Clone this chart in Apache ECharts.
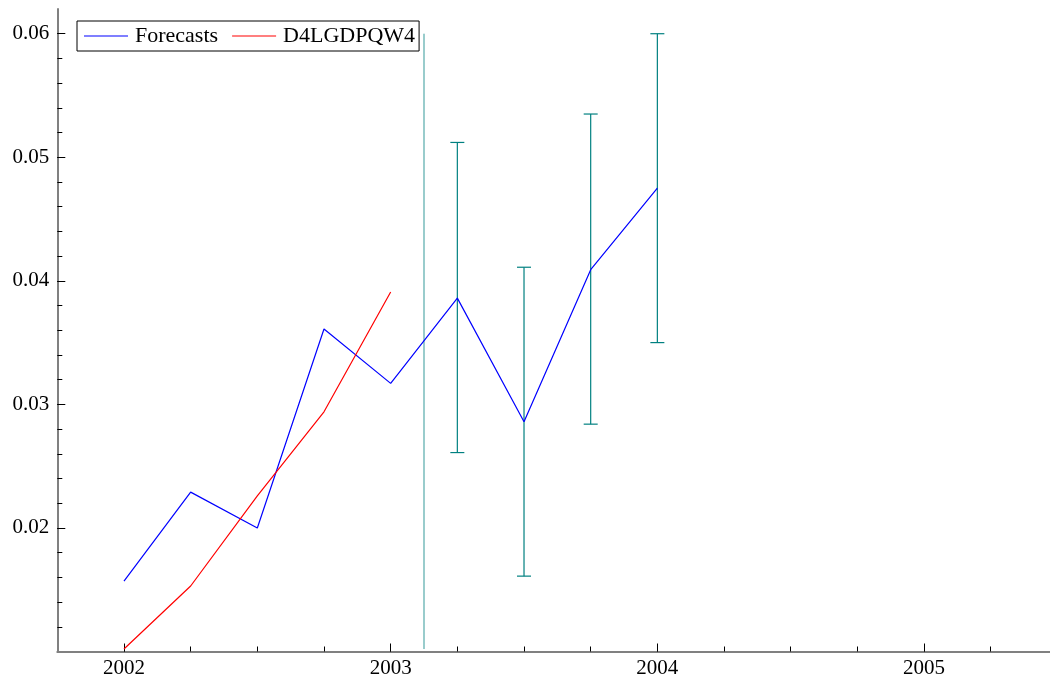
<!DOCTYPE html>
<html>
<head>
<meta charset="utf-8">
<script src="https://cdn.jsdelivr.net/npm/echarts@6/dist/echarts.min.js"></script>
<style>
  html, body { margin: 0; padding: 0; background: #fff; }
  #chart { width: 1050px; height: 684px; }
</style>
</head>
<body>
<div id="chart"></div>
<script>
// Quarterly dates (decimal years)
const quarters = [2002.0, 2002.25, 2002.5, 2002.75, 2003.0, 2003.25, 2003.5, 2003.75, 2004.0];
// Forecast path (fitted then out-of-sample)
const forecasts = [0.0157, 0.0229, 0.0200, 0.0361, 0.0317, 0.0386, 0.0286, 0.0409, 0.0475];
// Actual series
const actualDates = [2002.0, 2002.25, 2002.5, 2002.75, 2003.0];
const actual = [0.0102, 0.0153, 0.0226, 0.0294, 0.0391];
// Forecast intervals
const bandDates = [2003.25, 2003.5, 2003.75, 2004.0];
const bandLow = [0.0261, 0.0161, 0.0284, 0.0350];
const bandHigh = [0.0512, 0.0411, 0.0535, 0.0600];
// Forecast origin marker
const originDate = 2003.125;
const originRange = [0.0102, 0.0600];
// Tick labels
const yearTicks = [2002, 2003, 2004, 2005];
const yTicks = [0.02, 0.03, 0.04, 0.05, 0.06];

const FONT = 'Liberation Serif';
const TEAL = '#008080';

// Minor tick positions: every quarter on x, every 0.002 on y
const xMinorTicks = [];
for (let k = 1; k <= 14; k++) xMinorTicks.push(2001.75 + k * 0.25);
const yMinorTicks = [];
for (let k = 1; k <= 25; k++) yMinorTicks.push(+(0.01 + k * 0.002).toFixed(4));

const chart = echarts.init(document.getElementById('chart'));

const xBase = {
  type: 'value', min: 2001.75, max: 2005.5, position: 'bottom',
  interval: 0.25, splitLine: { show: false }
};
const yBase = {
  type: 'value', min: 0.01, max: 0.062, position: 'left',
  interval: 0.002, splitLine: { show: false }
};

chart.setOption({
  animation: false,
  backgroundColor: '#fff',
  grid: {
    left: 57.3, top: 9, width: 1000.1, height: 642.5,
    containLabel: false, outerBoundsMode: 'none'
  },
  legend: {
    data: ['Forecasts', 'D4LGDPQW4'],
    left: 77, top: 21,
    orient: 'horizontal',
    backgroundColor: '#fff',
    borderColor: '#000', borderWidth: 1,
    padding: [4, 4, 4, 7],
    icon: 'rect',
    itemWidth: 44, itemHeight: 1, itemGap: 14,
    textStyle: { fontFamily: FONT, fontSize: 22, color: '#000', lineHeight: 22, padding: [0, 0, 0, 2] }
  },
  xAxis: [
    Object.assign({}, xBase, {
      axisLine: { show: true, onZero: false, lineStyle: { color: '#808080', width: 2 } },
      axisTick: { show: true, inside: true, length: 5, customValues: xMinorTicks, lineStyle: { color: '#000', width: 1 } },
      axisLabel: { show: false }
    }),
    Object.assign({}, xBase, {
      axisLine: { show: false, onZero: false },
      axisTick: { show: true, inside: true, length: 8, customValues: yearTicks, lineStyle: { color: '#000', width: 1 } },
      axisLabel: {
        show: true, customValues: yearTicks, margin: 6,
        fontFamily: FONT, fontSize: 21, color: '#000',
        formatter: v => String(Math.round(v))
      }
    })
  ],
  yAxis: [
    Object.assign({}, yBase, {
      axisLine: { show: true, onZero: false, lineStyle: { color: '#808080', width: 2 } },
      axisTick: { show: true, inside: true, length: 5, customValues: yMinorTicks, lineStyle: { color: '#000', width: 1 } },
      axisLabel: { show: false }
    }),
    Object.assign({}, yBase, {
      axisLine: { show: false, onZero: false },
      axisTick: { show: true, inside: true, length: 8, customValues: yTicks, lineStyle: { color: '#000', width: 1 } },
      axisLabel: {
        show: true, customValues: yTicks, margin: 8,
        fontFamily: FONT, fontSize: 21, color: '#000',
        formatter: v => v.toFixed(2)
      }
    })
  ],
  series: [
    {
      name: 'origin', type: 'line', xAxisIndex: 0, yAxisIndex: 0,
      symbol: 'none', silent: true,
      lineStyle: { color: TEAL, width: 1, opacity: 0.8 },
      data: originRange.map(v => [originDate, v]),
      z: 2
    },
    {
      name: 'bands', type: 'custom', xAxisIndex: 0, yAxisIndex: 0, silent: true,
      data: bandDates.map((d, i) => [d, bandLow[i], bandHigh[i]]),
      renderItem: function (params, api) {
        const lo = api.coord([api.value(0), api.value(1)]);
        const hi = api.coord([api.value(0), api.value(2)]);
        const half = 7;
        const style = { stroke: TEAL, lineWidth: 1.2 };
        return {
          type: 'group',
          children: [
            { type: 'line', shape: { x1: lo[0], y1: lo[1], x2: hi[0], y2: hi[1] }, style },
            { type: 'line', shape: { x1: hi[0] - half, y1: hi[1], x2: hi[0] + half, y2: hi[1] }, style },
            { type: 'line', shape: { x1: lo[0] - half, y1: lo[1], x2: lo[0] + half, y2: lo[1] }, style }
          ]
        };
      },
      z: 2
    },
    {
      name: 'Forecasts', type: 'line', xAxisIndex: 0, yAxisIndex: 0,
      symbol: 'none', color: '#0000ff',
      lineStyle: { color: '#0000ff', width: 1.2 },
      data: quarters.map((d, i) => [d, forecasts[i]]),
      z: 3
    },
    {
      name: 'D4LGDPQW4', type: 'line', xAxisIndex: 0, yAxisIndex: 0,
      symbol: 'none', color: '#ff0000',
      lineStyle: { color: '#ff0000', width: 1.2 },
      data: actualDates.map((d, i) => [d, actual[i]]),
      z: 3
    }
  ]
});
</script>
</body>
</html>
